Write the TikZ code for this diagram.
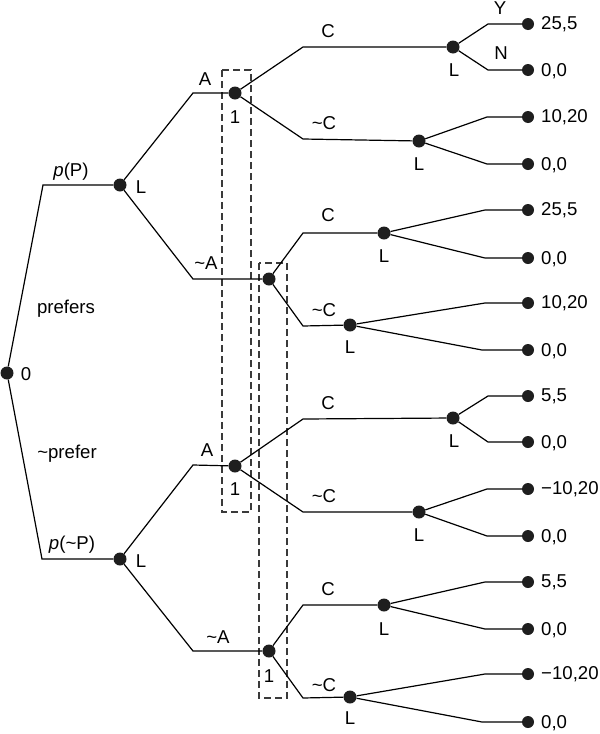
\documentclass[tikz,border=0pt]{standalone}
\usepackage{fontspec}
\setmainfont{Liberation Sans}
\definecolor{dotc}{HTML}{1E1E1E}
\definecolor{boxc}{HTML}{3A3A3A}
\begin{document}
\begin{tikzpicture}[x=1pt,y=-1pt,
  every node/.style={font=\fontsize{18.6}{22}\selectfont},
  dot/.style={circle,fill=dotc,inner sep=0pt,minimum size=13pt},
  tdot/.style={circle,fill=dotc,inner sep=0pt,minimum size=12pt},
  lab/.style={inner sep=0pt},
  pay/.style={inner sep=0pt,anchor=west},
  edge/.style={line width=1.2pt,line join=miter},
  dbox/.style={draw=boxc,line width=1.2pt,dash pattern=on 7pt off 4pt}]
\useasboundingbox (0,0) rectangle (600,734);
% dashed information sets
\draw[dbox] (222,70) rectangle (251,512);
\draw[dbox] (259,263) rectangle (287,698);
% decision nodes
\node[dot] (r) at (7,373) {};
\node[dot] (LP) at (120,185) {};
\node[dot] (LnP) at (120,559) {};
\node[dot] (n1) at (235,93) {};
\node[dot] (n2) at (269,279) {};
\node[dot] (n3) at (235,466) {};
\node[dot] (n4) at (269,651) {};
\node[dot] (L1) at (453,47) {};
\node[dot] (L2) at (419,141) {};
\node[dot] (L3) at (384,233) {};
\node[dot] (L4) at (350,325) {};
\node[dot] (L5) at (453,418) {};
\node[dot] (L6) at (419,512) {};
\node[dot] (L7) at (384,605) {};
\node[dot] (L8) at (350,697) {};
% terminal nodes
\node[tdot] (t1) at (528,24) {};
\node[tdot] (t2) at (528,70) {};
\node[tdot] (t3) at (528,117) {};
\node[tdot] (t4) at (528,164) {};
\node[tdot] (t5) at (528,210) {};
\node[tdot] (t6) at (528,258) {};
\node[tdot] (t7) at (528,303) {};
\node[tdot] (t8) at (528,350) {};
\node[tdot] (t9) at (528,396) {};
\node[tdot] (t10) at (528,442) {};
\node[tdot] (t11) at (528,489) {};
\node[tdot] (t12) at (528,536) {};
\node[tdot] (t13) at (528,582) {};
\node[tdot] (t14) at (528,629) {};
\node[tdot] (t15) at (528,674) {};
\node[tdot] (t16) at (528,722) {};
% corner coordinates
\coordinate (cP) at (43,185);
\coordinate (cnP) at (42,559);
\coordinate (cA1) at (193,93);
\coordinate (cA2) at (193,279);
\coordinate (cA3) at (193,465);
\coordinate (cA4) at (193,651);
\coordinate (c1) at (303,47);
\coordinate (c2) at (303,139);
\coordinate (c3) at (303,233);
\coordinate (c4) at (303,326);
\coordinate (c5) at (303,419);
\coordinate (c6) at (303,512);
\coordinate (c7) at (303,605);
\coordinate (c8) at (303,698);
\coordinate (d1) at (488,24);
\coordinate (d2) at (488,70);
\coordinate (d3) at (487,117);
\coordinate (d4) at (487,164);
\coordinate (d5) at (485,210);
\coordinate (d6) at (485,258);
\coordinate (d7) at (485,303);
\coordinate (d8) at (482,350);
\coordinate (d9) at (488,396);
\coordinate (d10) at (488,442);
\coordinate (d11) at (487,489);
\coordinate (d12) at (487,536);
\coordinate (d13) at (485,582);
\coordinate (d14) at (485,629);
\coordinate (d15) at (485,674);
\coordinate (d16) at (482,722);
% edges
\draw[edge] (r) -- (cP) -- (LP);
\draw[edge] (r) -- (cnP) -- (LnP);
\draw[edge] (LP) -- (cA1) -- (n1);
\draw[edge] (LP) -- (cA2) -- (n2);
\draw[edge] (LnP) -- (cA3) -- (n3);
\draw[edge] (LnP) -- (cA4) -- (n4);
\draw[edge] (n1) -- (c1) -- (L1);
\draw[edge] (n1) -- (c2) -- (L2);
\draw[edge] (n2) -- (c3) -- (L3);
\draw[edge] (n2) -- (c4) -- (L4);
\draw[edge] (n3) -- (c5) -- (L5);
\draw[edge] (n3) -- (c6) -- (L6);
\draw[edge] (n4) -- (c7) -- (L7);
\draw[edge] (n4) -- (c8) -- (L8);
\draw[edge] (L1) -- (d1) -- (t1);
\draw[edge] (L1) -- (d2) -- (t2);
\draw[edge] (L2) -- (d3) -- (t3);
\draw[edge] (L2) -- (d4) -- (t4);
\draw[edge] (L3) -- (d5) -- (t5);
\draw[edge] (L3) -- (d6) -- (t6);
\draw[edge] (L4) -- (d7) -- (t7);
\draw[edge] (L4) -- (d8) -- (t8);
\draw[edge] (L5) -- (d9) -- (t9);
\draw[edge] (L5) -- (d10) -- (t10);
\draw[edge] (L6) -- (d11) -- (t11);
\draw[edge] (L6) -- (d12) -- (t12);
\draw[edge] (L7) -- (d13) -- (t13);
\draw[edge] (L7) -- (d14) -- (t14);
\draw[edge] (L8) -- (d15) -- (t15);
\draw[edge] (L8) -- (d16) -- (t16);
% labels left part
\node[lab] (lr) at (26,374) {0};
\node[lab] (lpP) at (71,172) {\textit{p}(P)};
\node[lab] (lpnP) at (72,545) {\textit{p}(\textasciitilde P)};
\node[lab] (lpref) at (66,309) {prefers};
\node[lab] (lnpref) at (67,454) {\textasciitilde prefer};
\node[lab] (lLP) at (141,187) {L};
\node[lab] (lLnP) at (141,561) {L};
\node[lab] (lA1) at (205,79) {A};
\node[lab] (lA2) at (206,263) {\textasciitilde A};
\node[lab] (lA3) at (207,450) {A};
\node[lab] (lA4) at (218,637) {\textasciitilde A};
\node[lab] (l1a) at (235,117) {1};
\node[lab] (l1c) at (235,489) {1};
\node[lab] (l1d) at (269,676) {1};
% C labels
\node[lab] (lC1) at (328,31) {C};
\node[lab] (lC2) at (324,123) {\textasciitilde C};
\node[lab] (lC3) at (328,215) {C};
\node[lab] (lC4) at (324,310) {\textasciitilde C};
\node[lab] (lC5) at (328,403) {C};
\node[lab] (lC6) at (324,496) {\textasciitilde C};
\node[lab] (lC7) at (328,589) {C};
\node[lab] (lC8) at (324,685) {\textasciitilde C};
% L labels
\node[lab] (lL1) at (454,70) {L};
\node[lab] (lL2) at (419,164) {L};
\node[lab] (lL3) at (384,256) {L};
\node[lab] (lL4) at (350,347) {L};
\node[lab] (lL5) at (454,441) {L};
\node[lab] (lL6) at (419,535) {L};
\node[lab] (lL7) at (384,629) {L};
\node[lab] (lL8) at (350,718) {L};
\node[lab] (lY) at (500,8) {Y};
\node[lab] (lN) at (501,53) {N};
% payoffs
\node[pay] (p1) at (541,24) {25,5};
\node[pay] (p2) at (541,71) {0,0};
\node[pay] (p3) at (541,117) {10,20};
\node[pay] (p4) at (541,165) {0,0};
\node[pay] (p5) at (541,210) {25,5};
\node[pay] (p6) at (541,259) {0,0};
\node[pay] (p7) at (541,303) {10,20};
\node[pay] (p8) at (541,351) {0,0};
\node[pay] (p9) at (541,396) {5,5};
\node[pay] (p10) at (541,443) {0,0};
\node[pay] (p11) at (541,489) {−10,20};
\node[pay] (p12) at (541,537) {0,0};
\node[pay] (p13) at (541,582) {5,5};
\node[pay] (p14) at (541,630) {0,0};
\node[pay] (p15) at (541,674) {−10,20};
\node[pay] (p16) at (541,723) {0,0};
\end{tikzpicture}
\end{document}
